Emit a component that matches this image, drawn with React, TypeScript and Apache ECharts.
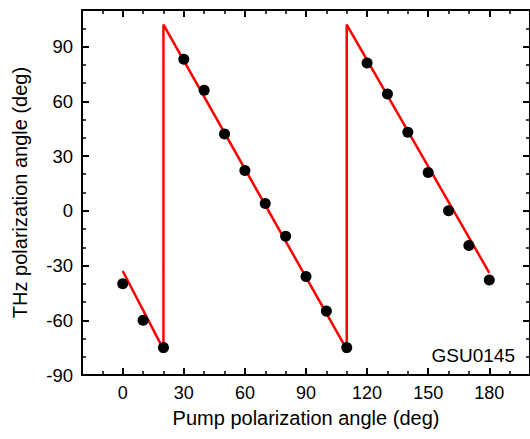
import React, { useEffect, useRef } from "react";
import * as echarts from "echarts";

const pumpAngles = [0, 10, 20, 30, 40, 50, 60, 70, 80, 90, 100, 110, 120, 130, 140, 150, 160, 170, 180];
const thzAngles = [-40, -60, -75, 83, 66, 42, 22, 4, -14, -36, -55, -75, 81, 64, 43, 21, 0, -19, -38];

const fitX = [0, 20, 20, 110, 110, 180];
const fitY = [-33, -76, 102, -76, 102, -34];

const xMajor = [0, 30, 60, 90, 120, 150, 180];
const yMajor = [-90, -60, -30, 0, 30, 60, 90];

const xTitle = "Pump polarization angle (deg)";
const yTitle = "THz polarization angle (deg)";
const sampleLabel = "GSU0145";

const FONT = "'Liberation Sans', Arial, Helvetica, sans-serif";

export default function App() {
  const ref = useRef<HTMLDivElement>(null);
  useEffect(() => {
    if (!ref.current) return;
    const chart = echarts.init(ref.current, undefined, { renderer: "svg" });
    const xMin = -20, xMax = 200, yMin = -90, yMax = 110;
    const line = { show: true, onZero: false, lineStyle: { color: "#000", width: 2 } };
    const noLine = { show: false, onZero: false };
    const mkX = (pos: string, major: boolean, withLabel: boolean) => ({
      type: "value",
      min: xMin,
      max: xMax,
      position: pos,
      interval: major ? undefined : 10,
      axisLine: major ? line : noLine,
      axisTick: major
        ? { show: true, inside: true, length: 7, customValues: xMajor, lineStyle: { color: "#000", width: 2 } }
        : { show: true, inside: true, length: 4, lineStyle: { color: "#000", width: 1.5 } },
      axisLabel: withLabel
        ? { show: true, customValues: xMajor, fontSize: 18, color: "#000", margin: 9, fontFamily: FONT }
        : { show: false },
      splitLine: { show: false },
      ...(withLabel
        ? {
            name: xTitle,
            nameLocation: "middle",
            nameGap: 33,
            nameTextStyle: { fontSize: 20, color: "#000", fontFamily: FONT },
          }
        : {}),
    });
    const mkY = (pos: string, major: boolean, withLabel: boolean) => ({
      type: "value",
      min: yMin,
      max: yMax,
      position: pos,
      interval: major ? undefined : 10,
      axisLine: major ? line : noLine,
      axisTick: major
        ? { show: true, inside: true, length: 7, customValues: yMajor, lineStyle: { color: "#000", width: 2 } }
        : { show: true, inside: true, length: 4, lineStyle: { color: "#000", width: 1.5 } },
      axisLabel: withLabel
        ? { show: true, customValues: yMajor, fontSize: 18.5, color: "#000", margin: 9, fontFamily: FONT }
        : { show: false },
      splitLine: { show: false },
      ...(withLabel
        ? {
            name: yTitle,
            nameLocation: "middle",
            nameGap: 52,
            nameTextStyle: { fontSize: 20, color: "#000", fontFamily: FONT },
          }
        : {}),
    });
    chart.setOption({
      animation: false,
      backgroundColor: "#fff",
      textStyle: { fontFamily: FONT },
      grid: { left: 82, top: 10, width: 451, height: 365, containLabel: false },
      xAxis: [mkX("bottom", true, true), mkX("bottom", false, false), mkX("top", true, false), mkX("top", false, false)],
      yAxis: [mkY("left", true, true), mkY("left", false, false), mkY("right", true, false), mkY("right", false, false)],
      graphic: [
        {
          type: "text",
          x: 515,
          y: 355,
          style: {
            text: sampleLabel,
            fontSize: 19,
            fontFamily: FONT,
            fill: "#000",
            textAlign: "right",
            textVerticalAlign: "middle",
          },
        },
      ],
      series: [
        {
          type: "line",
          xAxisIndex: 0,
          yAxisIndex: 0,
          data: fitX.map((x, i) => [x, fitY[i]]),
          showSymbol: false,
          symbol: "none",
          lineStyle: { color: "#ff0000", width: 2.5 },
          z: 2,
        },
        {
          type: "scatter",
          xAxisIndex: 0,
          yAxisIndex: 0,
          data: pumpAngles.map((x, i) => [x, thzAngles[i]]),
          symbol: "circle",
          symbolSize: 11,
          itemStyle: { color: "#000", opacity: 1 },
          z: 3,
        },
      ],
    });
    return () => chart.dispose();
  }, []);
  return (
    <div
      ref={ref}
      style={{ position: "fixed", left: 0, top: 0, width: 530, height: 439, background: "#fff" }}
    />
  );
}
